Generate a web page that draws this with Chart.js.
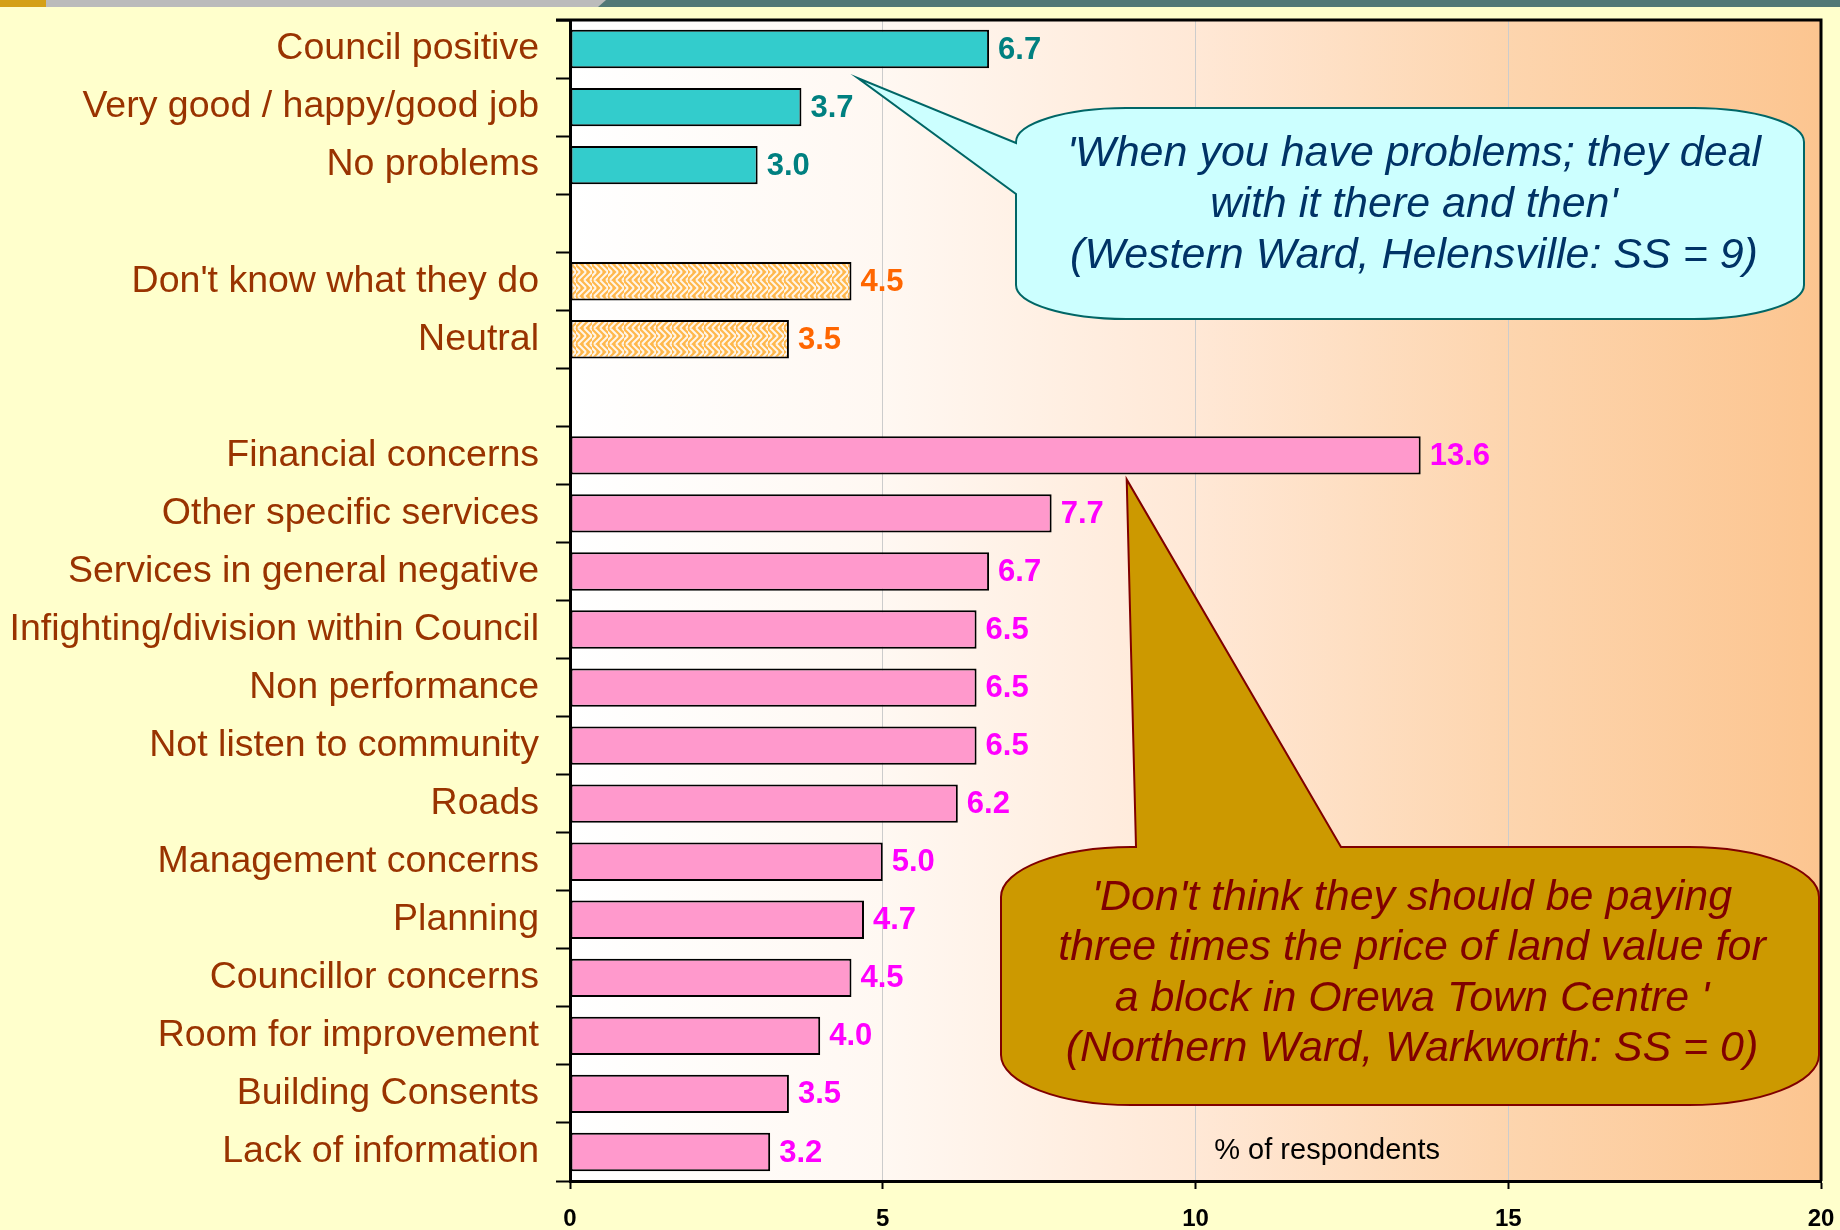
<!DOCTYPE html>
<html>
<head>
<meta charset="utf-8">
<script src="https://cdn.jsdelivr.net/npm/chart.js@4.4.0/dist/chart.umd.min.js"></script>
<style>
  html, body { margin: 0; padding: 0; background: #FFFFCC; }
  #wrap { width: 1840px; height: 1230px; }
</style>
</head>
<body>
<div id="wrap"><canvas id="myChart" width="1840" height="1230"></canvas></div>
<script>
// datos del gráfico, por grupo
const positiveLabels = ["Council positive", "Very good / happy/good job", "No problems"];
const positiveValues = [6.7, 3.7, 3.0];

const neutralLabels = ["Don't know what they do", "Neutral"];
const neutralValues = [4.5, 3.5];

const negativeLabels = [
  "Financial concerns", "Other specific services", "Services in general negative",
  "Infighting/division within Council", "Non performance", "Not listen to community",
  "Roads", "Management concerns", "Planning", "Councillor concerns",
  "Room for improvement", "Building Consents", "Lack of information"
];
const negativeValues = [13.6, 7.7, 6.7, 6.5, 6.5, 6.5, 6.2, 5.0, 4.7, 4.5, 4.0, 3.5, 3.2];

const xMin = 0;
const xMax = 20;
const xStep = 5;
const axisTitle = "% of respondents";

const quote1 = ["'When you have problems; they deal", "with it there and then'", "(Western Ward, Helensville: SS = 9)"];
const quote2 = ["'Don't think they should be paying", "three times the price of land value for", "a block in Orewa Town Centre '", "(Northern Ward, Warkworth: SS = 0)"];

const chart = document.querySelector("#myChart");

// patrón "weave" para las barras neutrales
const makeWeave = () => {
  const c = document.createElement("canvas");
  c.width = 16; c.height = 16;
  const g = c.getContext("2d");
  g.fillStyle = "#FFB84D";
  g.fillRect(0, 0, 16, 16);
  g.strokeStyle = "#FFF6EA";
  g.lineWidth = 2;
  g.beginPath();
  for (let i = -16; i <= 32; i += 6) {
    g.moveTo(i, 8); g.lineTo(i + 8, 0);
    g.moveTo(i, 8); g.lineTo(i + 8, 16);
  }
  g.stroke();
  return chart.getContext("2d").createPattern(c, "repeat");
};

// se arma la tabla con huecos entre grupos
const labels = [...positiveLabels, "", ...neutralLabels, "", ...negativeLabels];
const values = [...positiveValues, null, ...neutralValues, null, ...negativeValues];
const groupOf = [
  ...positiveLabels.map(() => "pos"), "gap",
  ...neutralLabels.map(() => "neu"), "gap",
  ...negativeLabels.map(() => "neg")
];
const weave = makeWeave();
const fills = { pos: "#33CCCC", neu: weave, neg: "#FF99CC", gap: "transparent" };
const textColors = { pos: "#008080", neu: "#FF6600", neg: "#FF00FF", gap: "#000" };

const drawBubble = (ctx, b) => {
  const { x0, y0, x1, y1, rx, ry, tail } = b;
  const k = 0.55;
  ctx.beginPath();
  ctx.moveTo(x0 + rx, y0);
  if (tail.side === "top") {
    ctx.lineTo(tail.a, y0);
    ctx.lineTo(tail.tip[0], tail.tip[1]);
    ctx.lineTo(tail.b, y0);
  }
  ctx.lineTo(x1 - rx, y0);
  ctx.bezierCurveTo(x1 - rx + rx * k, y0, x1, y0 + ry - ry * k, x1, y0 + ry);
  ctx.lineTo(x1, y1 - ry);
  ctx.bezierCurveTo(x1, y1 - ry + ry * k, x1 - rx + rx * k, y1, x1 - rx, y1);
  ctx.lineTo(x0 + rx, y1);
  ctx.bezierCurveTo(x0 + rx - rx * k, y1, x0, y1 - ry + ry * k, x0, y1 - ry);
  if (tail.side === "left") {
    ctx.lineTo(x0, tail.b);
    ctx.lineTo(tail.tip[0], tail.tip[1]);
    ctx.lineTo(x0, tail.a);
  }
  ctx.lineTo(x0, y0 + ry);
  ctx.bezierCurveTo(x0, y0 + ry - ry * k, x0 + rx - rx * k, y0, x0 + rx, y0);
  ctx.closePath();
  ctx.fillStyle = b.fill;
  ctx.fill();
  ctx.lineWidth = 2;
  ctx.strokeStyle = b.stroke;
  ctx.stroke();

  ctx.fillStyle = b.color;
  ctx.font = b.font;
  ctx.textAlign = "center";
  ctx.textBaseline = "middle";
  b.lines.forEach((t, i) => ctx.fillText(t, b.cx, b.ty + i * b.lh));
};

const backgroundPlugin = {
  id: "fondo",
  beforeDraw(c) {
    const ctx = c.ctx;
    const a = c.chartArea;
    ctx.save();
    ctx.fillStyle = "#FFFFCC";
    ctx.fillRect(0, 0, c.width, c.height);
    // franja superior
    ctx.fillStyle = "#D4A017";
    ctx.fillRect(0, 0, 46, 7);
    ctx.fillStyle = "#BBBBBB";
    ctx.fillRect(46, 0, 560, 7);
    ctx.fillStyle = "#527876";
    ctx.beginPath();
    ctx.moveTo(598, 7); ctx.lineTo(606, 0); ctx.lineTo(c.width, 0); ctx.lineTo(c.width, 7);
    ctx.closePath();
    ctx.fill();
    // área del gráfico con degradado
    const grad = ctx.createLinearGradient(a.left, 0, a.right, 0);
    grad.addColorStop(0, "#FFFFFF");
    grad.addColorStop(0.25, "#FFF8F2");
    grad.addColorStop(0.5, "#FFE8D6");
    grad.addColorStop(0.75, "#FDD5AE");
    grad.addColorStop(1, "#FCC590");
    ctx.fillStyle = grad;
    ctx.fillRect(a.left, a.top, a.right - a.left, a.bottom - a.top);
    ctx.restore();
  }
};

const overlayPlugin = {
  id: "extras",
  afterDraw(c) {
    const ctx = c.ctx;
    const a = c.chartArea;
    const xs = c.scales.x;
    const ys = c.scales.y;
    ctx.save();
    // borde superior y derecho
    ctx.strokeStyle = "#000";
    ctx.lineWidth = 3;
    ctx.beginPath();
    ctx.moveTo(a.left - 14, a.top);
    ctx.lineTo(a.right, a.top);
    ctx.lineTo(a.right, a.bottom);
    ctx.stroke();

    // etiquetas de valores
    const meta = c.getDatasetMeta(0);
    ctx.font = "bold 31px 'Liberation Sans', Arial, sans-serif";
    ctx.textAlign = "left";
    ctx.textBaseline = "middle";
    meta.data.forEach((bar, i) => {
      if (values[i] === null) return;
      ctx.fillStyle = textColors[groupOf[i]];
      ctx.fillText(values[i].toFixed(1), bar.x + 9, bar.y + 1);
    });

    // título del eje dentro del área
    ctx.fillStyle = "#000";
    ctx.font = "29px 'Liberation Sans', Arial, sans-serif";
    ctx.fillText(axisTitle, xs.getPixelForValue(10.3), ys.getPixelForValue(19) - 1);

    // globos de comentario
    const between = (i) => (ys.getPixelForValue(i) + ys.getPixelForValue(i + 1)) / 2;
    drawBubble(ctx, {
      x0: 1016, y0: 108, x1: 1804, y1: 319, rx: 110, ry: 34,
      tail: { side: "left", a: 143, b: 194, tip: [xs.getPixelForValue(4.6), between(0)] },
      fill: "#CCFFFF", stroke: "#006666", color: "#003366",
      font: "italic 43px 'Liberation Sans', Arial, sans-serif",
      lines: quote1, cx: 1414, ty: 154, lh: 51
    });
    drawBubble(ctx, {
      x0: 1001, y0: 847, x1: 1819, y1: 1105, rx: 130, ry: 50,
      tail: { side: "top", a: 1136, b: 1341, tip: [xs.getPixelForValue(8.9), between(7) - 5] },
      fill: "#CC9900", stroke: "#800000", color: "#800000",
      font: "italic 43px 'Liberation Sans', Arial, sans-serif",
      lines: quote2, cx: 1412, ty: 898, lh: 50.5
    });
    ctx.restore();
  }
};

const config = {
  type: "bar",
  data: {
    labels,
    datasets: [{
      data: values,
      backgroundColor: groupOf.map((g) => fills[g]),
      borderColor: "#000",
      borderWidth: 2,
      borderSkipped: false,
      barPercentage: 0.66,
      categoryPercentage: 1
    }]
  },
  options: {
    indexAxis: "y",
    responsive: false,
    animation: false,
    devicePixelRatio: 1,
    layout: { padding: { top: 20, right: 19, left: 0, bottom: 0 } },
    plugins: { legend: { display: false }, tooltip: { enabled: false } },
    scales: {
      x: {
        min: xMin,
        max: xMax,
        ticks: {
          stepSize: xStep,
          color: "#000",
          font: { family: "'Liberation Sans', Arial, sans-serif", size: 24, weight: "bold" },
          padding: 16
        },
        grid: { color: "#CCCCCC", lineWidth: 1, tickColor: "#000", tickLength: 8, tickWidth: 2 },
        border: { color: "#000", width: 3 },
        afterFit: (s) => { s.height = 49; s.paddingLeft = 0; s.paddingRight = 0; }
      },
      y: {
        ticks: {
          color: "#993300",
          font: { family: "'Liberation Sans', Arial, sans-serif", size: 37.5 },
          padding: 17,
          autoSkip: false
        },
        grid: { drawOnChartArea: false, offset: true, tickColor: "#000", tickLength: 14, tickWidth: 2 },
        border: { color: "#000", width: 3 },
        afterFit: (s) => { s.width = 570; s.paddingTop = 0; s.paddingBottom = 0; }
      }
    }
  },
  plugins: [backgroundPlugin, overlayPlugin]
};

const myChart = new Chart(chart, config);
</script>
</body>
</html>
